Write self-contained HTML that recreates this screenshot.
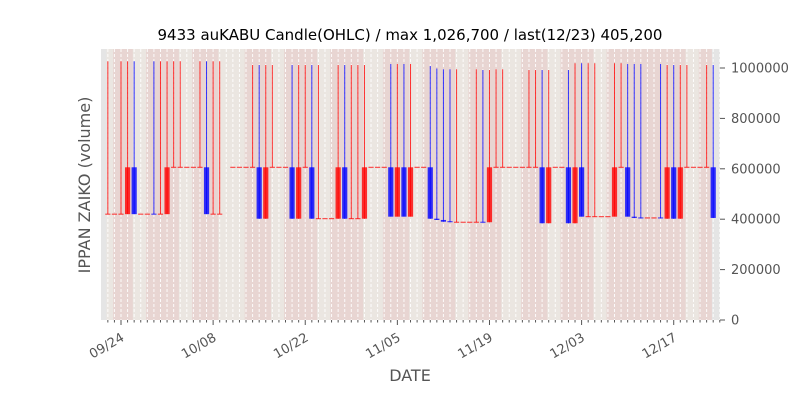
<!DOCTYPE html>
<html><head><meta charset="utf-8"><style>
body{margin:0;background:#fff;width:800px;height:400px;overflow:hidden}
svg{display:block;font-family:"DejaVu Sans","Liberation Sans",sans-serif}
</style></head><body>
<svg id="chart" width="800" height="400"></svg>
<script>
// data (values in thousands); day offset from 09/24
const days   =[-2,-1,0,1,2,3,4,5,6,7,8,9,10,11,12,13,14,15,17,18,19,20,21,22,23,24,25,26,27,28,29,30,31,32,33,34,35,36,37,38,39,40,41,42,43,44,45,46,47,48,49,50,51,52,53,54,55,56,57,58,59,60,61,62,63,64,65,66,67,68,69,70,71,72,73,74,75,76,77,78,79,80,81,82,83,84,85,86,87,88,89,90];
const opens  =[420,420,420,420,606,420,420,420,420,420,606,606,606,606,606,606,420,420,606,606,606,606,606,402,606,606,606,606,402,606,606,402,402,402,402,606,402,402,402,606,606,606,606,410,606,410,606,606,606,402,397,390,388,388,388,388,388,388,606,606,606,606,606,606,606,606,384,606,606,606,384,606,410,410,410,410,410,606,606,410,405,405,405,405,402,606,402,606,606,606,606,606];
const highs  =[1027,420,1027,1027,1027,420,420,1027,1027,1027,1027,1027,606,606,1027,1027,1027,1027,606,606,606,1012,1012,1012,1012,606,606,1012,1012,1012,1012,1012,402,402,1012,1012,1012,1012,1012,606,606,606,1016,1016,1016,1016,606,606,1008,998,995,995,995,388,388,995,992,992,995,995,606,606,606,992,992,992,992,606,606,992,1019,1019,1019,1019,410,410,1019,1019,1016,1016,1016,405,405,1016,1012,1012,1012,1012,606,606,1012,1012];
const lows   =[420,420,420,420,420,420,420,419,420,420,606,606,606,606,606,420,420,420,606,606,606,606,402,402,606,606,606,402,402,606,402,402,402,402,402,402,402,402,402,606,606,606,410,410,410,410,606,606,402,397,390,388,388,388,388,388,387,388,606,606,606,606,606,606,606,384,384,606,606,384,384,410,410,410,410,410,410,606,410,405,404,405,405,404,402,402,402,606,606,606,606,405];
const closes =[420,420,420,606,420,420,420,419,420,606,606,606,606,606,606,420,420,420,606,606,606,606,402,606,606,606,606,402,606,606,402,402,402,402,606,402,402,402,606,606,606,606,410,606,410,606,606,606,402,397,390,388,388,388,388,388,387,606,606,606,606,606,606,606,606,384,606,606,606,384,606,410,410,410,410,410,606,606,410,405,404,405,405,404,606,402,606,606,606,606,606,405];
const pinkBands=[[-1,2],[4,9],[11,15],[19,23],[25,30],[32,37],[40,44],[46,51],[53,58],[61,65],[67,72],[74,86],[88,90]];
const yTicks=[0,200000,400000,600000,800000,1000000];
const xTickDays=[0,14,28,42,56,70,84];
const xTickLabels=["09/24","10/08","10/22","11/05","11/19","12/03","12/17"];

const NS="http://www.w3.org/2000/svg";
const svg=document.getElementById('chart');
const L=101,R=720,T=49,B=320;
const X=d=>121+d*6.58;
const Y=v=>320-v*0.000252;
function mk(tag,attrs,parent){const e=document.createElementNS(NS,tag);for(const k in attrs)e.setAttribute(k,attrs[k]);(parent||svg).appendChild(e);return e;}

let e=mk('rect',{x:L,y:T,width:R-L,height:B-T,fill:'#e5e5e5'});


e=mk('rect',{x:X(-2.2),y:T,width:X(89.8)-X(-2.2),height:B-T,fill:'#ebe6e1'});


pinkBands.forEach(b=>{
  const r=mk('rect',{x:X(b[0]-0.2),y:T,width:X(b[1]-0.2)-X(b[0]-0.2),height:B-T,fill:'#e8d5d2'});
  
  
});
for(let d=-2;d<=91;d++){
  const x=X(d); if(x<L||x>R)continue;
  const g=mk('line',{x1:x,x2:x,y1:T,y2:B,stroke:'#fff','stroke-width':1,'stroke-dasharray':'3,2',opacity:0.9});
  
  
  const t=mk('line',{x1:x,x2:x,y1:B,y2:B+(xTickDays.includes(d)?5:2.5),stroke:'#555','stroke-width':1});
  
  
}
// candles
for(let i=0;i<days.length;i++){
  const up=closes[i]>=opens[i];
  const col=up?'rgba(255,0,0,0.8)':'rgba(0,0,255,0.8)';
  const x=X(days[i]);
  if(highs[i]>lows[i]){
    const w=mk('line',{x1:x,x2:x,y1:Y(highs[i]*1000),y2:Y(lows[i]*1000),stroke:col,'stroke-width':1});
    
    
  }
  const y1=Y(Math.max(opens[i],closes[i])*1000),y2=Y(Math.min(opens[i],closes[i])*1000);
  const h=Math.max(1,y2-y1);
  const b=mk('rect',{x:x-2.6,y:h<=1?y1-0.5:y1,width:5.2,height:h,fill:col});
  
  
}
// y axis right
yTicks.forEach(v=>{
  const y=Y(v);
  const t=mk('line',{x1:R,x2:R+5,y1:y,y2:y,stroke:'#555'});
  
  
  const l=mk('text',{x:R+11,y:y+4.5,'font-size':13,fill:'#555'});
  l.textContent=v;
  
  
});
xTickDays.forEach((d,i)=>{
  const x=X(d);
  const l=mk('text',{x:0,y:0,'font-size':13,fill:'#555','text-anchor':'end',transform:`translate(${x+4},${B+20}) rotate(-30)`});
  l.textContent=xTickLabels[i];
  
  
});
e=mk('text',{x:410,y:40,'font-size':15,fill:'#000','text-anchor':'middle'});
e.textContent='9433 auKABU Candle(OHLC) / max 1,026,700 / last(12/23) 405,200';


e=mk('text',{x:410,y:381,'font-size':16,fill:'#555','text-anchor':'middle'});
e.textContent='DATE';


e=mk('text',{x:0,y:0,'font-size':16,fill:'#555','text-anchor':'middle',transform:'translate(90,185) rotate(-90)'});
e.textContent='IPPAN ZAIKO (volume)';


</script>
</body></html>
